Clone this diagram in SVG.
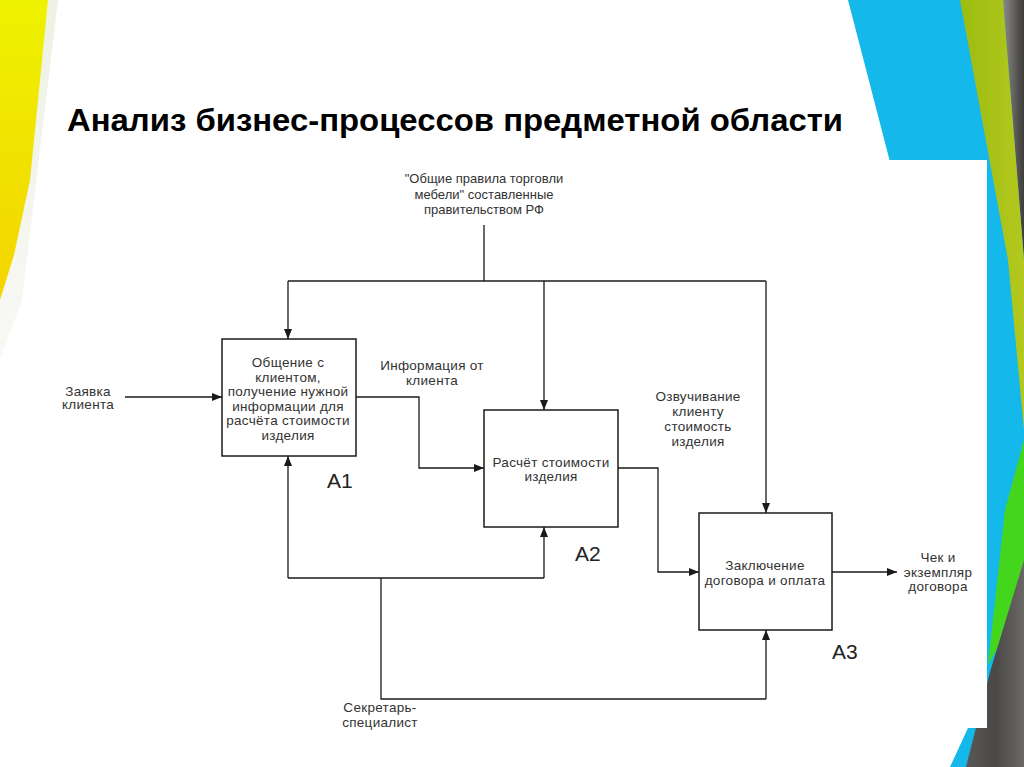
<svg xmlns="http://www.w3.org/2000/svg" width="1024" height="767" viewBox="0 0 1024 767">
<defs>
<linearGradient id="yel" x1="0" y1="0" x2="0" y2="1">
<stop offset="0" stop-color="#eef200"/>
<stop offset="1" stop-color="#f4d400"/>
</linearGradient>
<linearGradient id="shade" x1="0" y1="0" x2="0" y2="1">
<stop offset="0" stop-color="#e6ecd6"/>
<stop offset="1" stop-color="#f6f6f2"/>
</linearGradient>
<linearGradient id="grayTop" x1="0" y1="0" x2="1" y2="0">
<stop offset="0" stop-color="#8a8a86"/>
<stop offset="1" stop-color="#3e3c3a"/>
</linearGradient>
<linearGradient id="grayBot" x1="0" y1="0" x2="1" y2="0">
<stop offset="0" stop-color="#5a5856"/>
<stop offset="0.5" stop-color="#4a4846"/>
<stop offset="1" stop-color="#6a6866"/>
</linearGradient>
<linearGradient id="olive" x1="0" y1="0" x2="1" y2="0">
<stop offset="0" stop-color="#9cbc10"/>
<stop offset="1" stop-color="#b4c81e"/>
</linearGradient>
<marker id="arr" markerWidth="10" markerHeight="8" refX="10" refY="4" orient="auto" markerUnits="userSpaceOnUse">
<path d="M0,0 L10,4 L0,8 z" fill="#1a1a1a"/>
</marker>
<style>
.box{fill:#fff;stroke:#1a1a1a;stroke-width:1.5}
.t{font-family:"Liberation Sans",Arial,sans-serif;font-size:13.5px;letter-spacing:0.3px;fill:#333;text-anchor:middle}
.tt{font-family:"Liberation Sans",Arial,sans-serif;font-size:13px;fill:#333;text-anchor:middle}
.lbl{font-family:"Liberation Sans",Arial,sans-serif;font-size:21px;fill:#222}
.c{fill:none;stroke:#1a1a1a;stroke-width:1.3}
.ca{fill:none;stroke:#1a1a1a;stroke-width:1.3;marker-end:url(#arr)}
</style>
</defs>
<g id="background">
<rect x="0" y="0" width="1024" height="767" fill="#ffffff"/>
<polygon points="48,0 58,0 22,300 0,360 0,300" fill="url(#shade)" opacity="0.7"/>
<polygon points="0,0 48,0 30,180 14,255 0,300" fill="url(#yel)"/>
<polygon points="848,0 1024,0 1024,767 950,767 968,728 896,185" fill="#14b8ea"/>
<polygon points="1003,0 1024,0 1024,260" fill="url(#grayTop)"/>
<polygon points="960,0 1003,0 1024,260 1024,430 1008,260" fill="url(#olive)"/>
<polygon points="1005,510 1024,440 1024,600 988,665" fill="#44d61c"/>
<polygon points="1024,560 1024,767 966,767 990,672" fill="url(#grayBot)"/>
<rect x="100" y="160" width="887" height="568" fill="#ffffff"/>
</g>
<text x="67" y="131" font-family="Liberation Sans,Arial,sans-serif" font-weight="bold" font-size="31" fill="#000" textLength="776" lengthAdjust="spacingAndGlyphs">Анализ бизнес-процессов предметной области</text>
<g id="connectors">
<path class="c" d="M484,225 V281"/>
<path class="c" d="M288,281 H766"/>
<path class="ca" d="M288,281 V339"/>
<path class="ca" d="M544,281 V410"/>
<path class="ca" d="M766,281 V513"/>
<path class="ca" d="M125,397 H222"/>
<path class="ca" d="M356,397 H419 V468 H484"/>
<path class="ca" d="M618,468 H658 V572 H699"/>
<path class="ca" d="M832,572 H897"/>
<path class="ca" d="M288,578 V456"/>
<path class="c" d="M288,578 H544"/>
<path class="ca" d="M544,578 V527"/>
<path class="c" d="M381,578 V699 H766"/>
<path class="ca" d="M766,699 V630"/>
</g>
<g id="A1">
<rect class="box" x="222" y="339" width="134" height="117"/>
<text class="t"><tspan x="288" y="367">Общение с</tspan><tspan x="288" y="381.5">клиентом,</tspan><tspan x="288" y="396">получение нужной</tspan><tspan x="288" y="410.5">информации для</tspan><tspan x="288" y="425">расчёта стоимости</tspan><tspan x="288" y="439.5">изделия</tspan></text>
<text class="lbl" x="327" y="488">A1</text>
</g>
<g id="A2">
<rect class="box" x="484" y="410" width="134" height="117"/>
<text class="t"><tspan x="551" y="466.5">Расчёт стоимости</tspan><tspan x="551" y="481">изделия</tspan></text>
<text class="lbl" x="575" y="561">A2</text>
</g>
<g id="A3">
<rect class="box" x="699" y="513" width="133" height="117"/>
<text class="t"><tspan x="765" y="569.5">Заключение</tspan><tspan x="765" y="584.5">договора и оплата</tspan></text>
<text class="lbl" x="832" y="659">A3</text>
</g>
<g id="labels">
<text class="tt"><tspan x="484" y="183">"Общие правила торговли</tspan><tspan x="484" y="198.5">мебели" составленные</tspan><tspan x="484" y="214">правительством РФ</tspan></text>
<text class="t"><tspan x="88" y="395.5">Заявка</tspan><tspan x="88" y="409">клиента</tspan></text>
<text class="t"><tspan x="432" y="370">Информация от</tspan><tspan x="432" y="385">клиента</tspan></text>
<text class="t"><tspan x="698" y="401">Озвучивание</tspan><tspan x="698" y="416">клиенту</tspan><tspan x="698" y="431">стоимость</tspan><tspan x="698" y="446">изделия</tspan></text>
<text class="t"><tspan x="938" y="562">Чек и</tspan><tspan x="938" y="576.5">экземпляр</tspan><tspan x="938" y="591">договора</tspan></text>
<text class="t"><tspan x="380" y="712">Секретарь-</tspan><tspan x="380" y="727">специалист</tspan></text>
</g>
</svg>
